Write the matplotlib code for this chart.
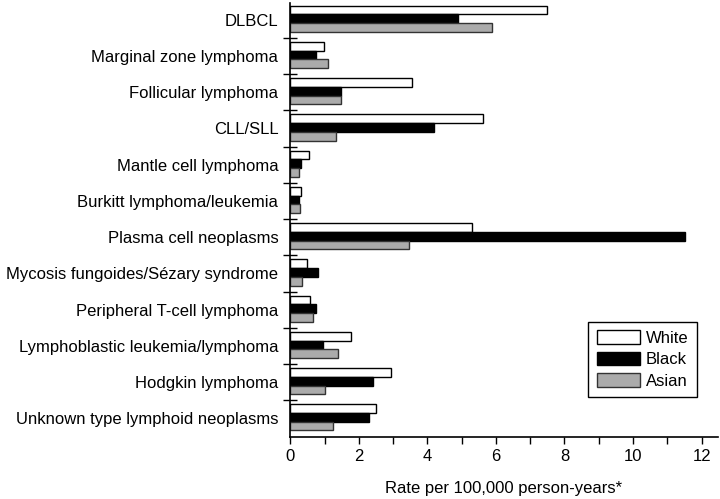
import numpy as np
import matplotlib.pyplot as plt
from matplotlib.ticker import MultipleLocator, FixedLocator

plt.rcParams['font.family'] = ['Liberation Sans', 'DejaVu Sans']

categories = ['DLBCL', 'Marginal zone lymphoma', 'Follicular lymphoma', 'CLL/SLL',
              'Mantle cell lymphoma', 'Burkitt lymphoma/leukemia', 'Plasma cell neoplasms',
              'Mycosis fungoides/Sézary syndrome', 'Peripheral T-cell lymphoma',
              'Lymphoblastic leukemia/lymphoma', 'Hodgkin lymphoma',
              'Unknown type lymphoid neoplasms']
white = [7.50, 0.97, 3.55, 5.61, 0.56, 0.31, 5.31, 0.49, 0.57, 1.76, 2.94, 2.49]
black = [4.88, 0.76, 1.49, 4.18, 0.32, 0.25, 11.53, 0.81, 0.75, 0.96, 2.42, 2.30]
asian = [5.89, 1.09, 1.47, 1.32, 0.24, 0.27, 3.45, 0.34, 0.65, 1.39, 1.01, 1.26]

fig = plt.figure(figsize=(7.2, 4.99), dpi=100)
ax = fig.add_axes([0.4032, 0.1246, 0.5936, 0.8686])

y = np.arange(len(categories))
h = 0.24
off = -0.025
ax.barh(y + off - h, white, height=h, color='white', edgecolor='black', linewidth=1, label='White')
ax.barh(y + off, black, height=h, color='black', edgecolor='black', linewidth=1, label='Black')
ax.barh(y + off + h, asian, height=h, color='#ababab', edgecolor='#333333', linewidth=1, label='Asian')

ax.set_ylim(11.51, -0.45)
ax.set_xlim(0, 12.47)

ax.set_yticks(y)
ax.set_yticklabels(categories, fontsize=12)
ax.yaxis.set_minor_locator(FixedLocator(np.arange(0.5, 11, 1)))
ax.tick_params(axis='y', which='major', length=0, pad=8.6)
ax.tick_params(axis='y', which='minor', direction='inout', length=10, width=1)

ax.xaxis.set_major_locator(MultipleLocator(2))
ax.xaxis.set_minor_locator(MultipleLocator(1))
ax.tick_params(axis='x', which='both', direction='out', length=5, width=1, labelsize=12, pad=4)

for s in ['top', 'right']:
    ax.spines[s].set_visible(False)
for s in ['left', 'bottom']:
    ax.spines[s].set_linewidth(1.2)

ax.set_xlabel('Rate per 100,000 person-years*', fontsize=12, labelpad=12)

leg = ax.legend(loc='lower right', bbox_to_anchor=(0.951, 0.092), borderaxespad=0,
                fontsize=12, fancybox=False, edgecolor='black', framealpha=1,
                handlelength=2.6, handleheight=0.9, handletextpad=0.35,
                labelspacing=0.34, borderpad=0.5)
leg.get_frame().set_linewidth(1)

fig.savefig('out.png', dpi=100)
